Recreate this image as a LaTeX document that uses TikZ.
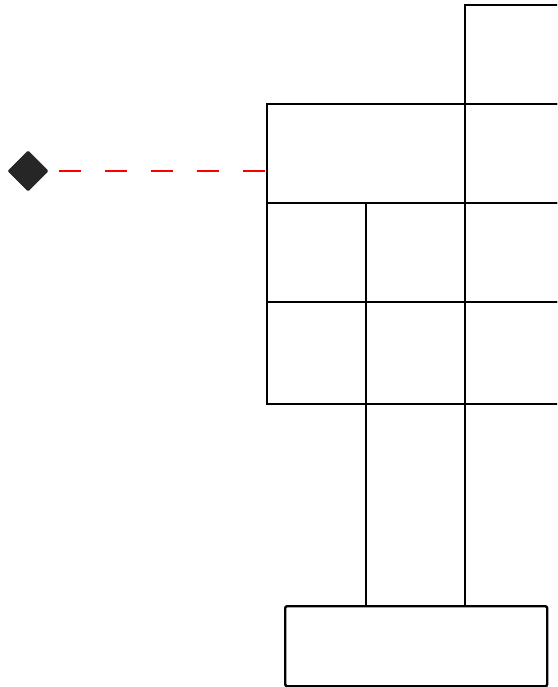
\documentclass[tikz,border=0pt]{standalone}
\usetikzlibrary{shapes.geometric}
\begin{document}
\begin{tikzpicture}[x=1pt,y=-1pt,
  cell/.style={draw=black,line width=2.4pt,rectangle,inner sep=0pt,anchor=north west},
  mark diamond/.style={diamond,fill=black!85,draw=black!85,line width=1pt,rounded corners=1pt,inner sep=0pt,minimum width=40pt,minimum height=40pt},
  link/.style={draw=red,line width=1.3pt,dash pattern=on 22pt off 24pt}]
\useasboundingbox (0,0) rectangle (557,687);
\clip (0,0) rectangle (557,687);
% top box on the right
\node[cell,minimum width=200pt,minimum height=99pt] (top) at (464,4) {};
% row 1
\node[cell,minimum width=198pt,minimum height=99pt] (a) at (266,103) {};
\node[cell,minimum width=200pt,minimum height=99pt] (r1) at (464,103) {};
% row 2
\node[cell,minimum width=99pt,minimum height=99pt] (b1) at (266,202) {};
\node[cell,minimum width=99pt,minimum height=99pt] (b2) at (365,202) {};
\node[cell,minimum width=200pt,minimum height=99pt] (r2) at (464,202) {};
% row 3
\node[cell,minimum width=99pt,minimum height=102pt] (c1) at (266,301) {};
\node[cell,minimum width=99pt,minimum height=102pt] (c2) at (365,301) {};
\node[cell,minimum width=200pt,minimum height=102pt] (r3) at (464,301) {};
% stem
\node[cell,minimum width=99pt,minimum height=202pt] (stem) at (365,403) {};
% base
\node[cell,rounded corners=2pt,minimum width=262pt,minimum height=80pt] (base) at (284,605) {};
% marker
\node[mark diamond] (m) at (28,171) {};
\coordinate (ain) at (a.west |- m);
\draw[link] ([xshift=10pt]m.east) -- (ain);
\end{tikzpicture}
\end{document}
